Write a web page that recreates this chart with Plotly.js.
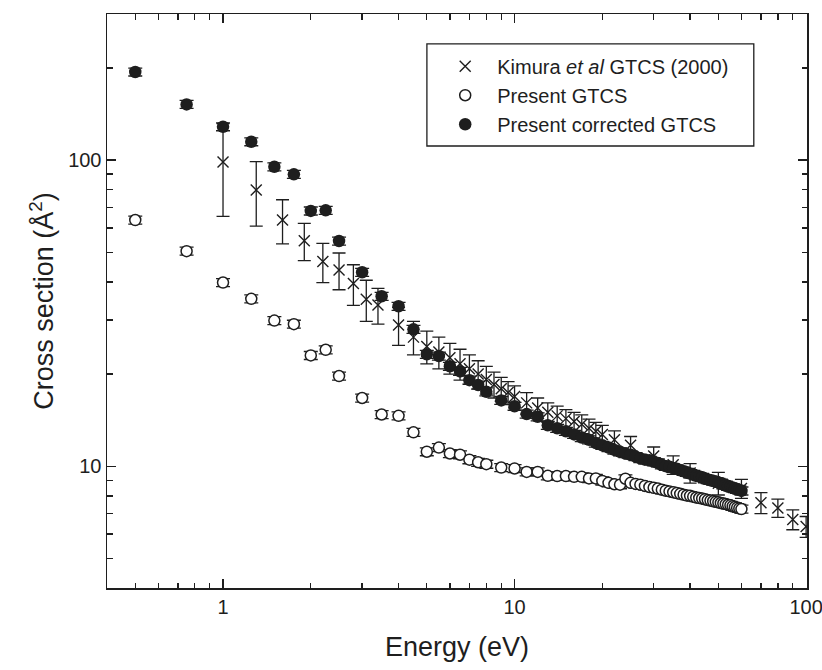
<!DOCTYPE html>
<html>
<head>
<meta charset="utf-8">
<script src="https://cdn.plot.ly/plotly-3.0.1.min.js"></script>
<style>html,body{margin:0;padding:0;background:#fff;}#chart{width:822px;height:670px;}</style>
</head>
<body>
<div id="chart"></div>
<script>
// Kimura et al GTCS (2000)
const kimuraE = [1,1.3,1.6,1.9,2.2,2.5,2.8,3.1,3.4,4,4.5,5,5.5,6,6.5,7,7.5,8,8.5,9,9.5,10,11,12,13,14,15,16,17,18,19,20,22,25,30,35,40,50,60,70,80,90,100];
const kimuraCS = [98.5,79.8,63.7,54.5,46.6,43.7,39.5,35.1,33.6,28.9,26.4,24.6,23.6,22.6,21.6,20.8,20.0,19.2,18.5,17.9,17.4,16.9,16.1,15.5,15.0,14.6,14.3,14.0,13.7,13.3,13.0,12.7,12.2,11.7,10.8,10.1,9.5,8.8,8.45,7.6,7.3,6.7,6.35];
const kimuraErr = [33,19,10.5,7.6,6.8,6,6,5.4,4.5,4.1,3.3,3.0,2.8,2.6,2.5,2.3,2.1,2.0,1.8,1.6,1.5,1.4,1.3,1.2,1.1,1.1,1.0,1.0,1.0,0.95,0.9,0.9,0.85,0.8,0.75,0.7,0.7,0.75,0.6,0.6,0.5,0.5,0.5];

// Present GTCS and Present corrected GTCS (same energy grid)
const presentE = [0.5,0.75,1,1.25,1.5,1.75,2,2.25,2.5,3,3.5,4,4.5,5,5.5,6,6.5,7,7.5,8,9,10,11,12,13,14,15,16,17,18,19,20,21,22,23,24,25,26,27,28,29,30,31,32,33,34,35,36,37,38,39,40,41,42,43,44,45,46,47,48,49,50,51,52,53,54,55,56,57,58,59,60];
const presentCS = [63.7,50.4,39.8,35.2,29.9,29.1,23.0,24.0,19.7,16.7,14.75,14.6,12.9,11.15,11.5,11.0,10.9,10.5,10.3,10.15,9.9,9.83,9.58,9.58,9.3,9.28,9.28,9.23,9.23,9.12,9.12,8.95,8.82,8.73,8.7,9.1,8.82,8.75,8.7,8.62,8.55,8.5,8.45,8.38,8.32,8.27,8.22,8.17,8.12,8.07,8.02,8.0,7.95,7.9,7.87,7.84,7.8,7.75,7.72,7.68,7.65,7.62,7.58,7.55,7.52,7.48,7.45,7.4,7.36,7.32,7.28,7.24];
const correctedCS = [194,152,128.5,114.8,95.1,89.8,68.2,68.5,54.4,43.0,35.9,33.3,28.0,23.2,22.9,21.2,20.4,19.1,18.4,17.5,16.4,15.7,14.8,14.5,13.6,13.3,13.0,12.7,12.4,12.2,11.9,11.7,11.5,11.3,11.15,11.0,10.9,10.75,10.6,10.5,10.45,10.35,10.25,10.1,10.0,9.95,9.85,9.8,9.7,9.62,9.55,9.45,9.4,9.3,9.25,9.2,9.1,9.05,9.0,8.95,8.9,8.85,8.8,8.7,8.68,8.6,8.55,8.5,8.45,8.4,8.37,8.3];

// Axis ticks
const xMajor = [1,10,100];
const xMajorText = ['1','10','100'];
const xMinor = [0.5,0.6,0.7,0.8,0.9,2,3,4,5,6,7,8,9,20,30,40,50,60,70,80,90];
const yMajor = [10,100];
const yMajorText = ['10','100'];
const yMinor = [5,6,7,8,9,20,30,40,50,60,70,80,90,200];

const INK = '#1e1e1e';
const FONT = 'Liberation Sans, Arial, Helvetica, sans-serif';

const traces = [
  {
    x: kimuraE, y: kimuraCS, type: 'scatter', mode: 'markers',
    name: 'Kimura <i>et al</i> GTCS (2000)',
    marker: {symbol: 'x-thin-open', size: 11, color: INK, line: {color: INK, width: 1.4}},
    error_y: {type: 'data', array: kimuraErr, visible: true, color: INK, thickness: 1.3, width: 6.5}
  },
  {
    x: presentE, y: presentCS, type: 'scatter', mode: 'markers',
    name: 'Present GTCS',
    marker: {symbol: 'circle', size: 11, color: '#ffffff', line: {color: INK, width: 1.5}},
    error_y: {type: 'percent', value: 3, visible: true, color: INK, thickness: 1.3, width: 7}
  },
  {
    x: presentE, y: correctedCS, type: 'scatter', mode: 'markers',
    name: 'Present corrected GTCS',
    marker: {symbol: 'circle', size: 12.5, color: INK, line: {color: INK, width: 0}},
    error_y: {type: 'percent', value: 3, visible: true, color: INK, thickness: 1.3, width: 7}
  }
];

const axisCommon = {
  type: 'log', showgrid: false, zeroline: false,
  showline: true, linecolor: INK, linewidth: 1.5, mirror: 'ticks',
  ticks: 'inside', ticklen: 9, tickwidth: 1.3, tickcolor: INK,
  tickmode: 'array', ticklabeloverflow: 'allow',
  tickfont: {family: FONT, size: 20, color: INK}
};

const layout = {
  width: 822, height: 670,
  margin: {l: 107, r: 15, t: 14, b: 82},
  paper_bgcolor: '#ffffff', plot_bgcolor: '#ffffff',
  font: {family: FONT, color: INK},
  showlegend: true,
  legend: {
    x: 0.466, y: 0.943, xanchor: 'left', yanchor: 'top',
    bgcolor: 'rgba(0,0,0,0)', borderwidth: 0,
    font: {family: FONT, size: 20, color: INK},
    itemwidth: 54, tracegroupgap: 0
  },
  shapes: [{
    type: 'rect', xref: 'paper', yref: 'paper', layer: 'above',
    x0: 0.457, x1: 0.924, y0: 0.770, y1: 0.948,
    line: {color: INK, width: 1.3}, fillcolor: 'rgba(255,255,255,1)'
  }],
  xaxis: Object.assign({}, axisCommon, {
    range: [Math.log10(0.4), 2.003],
    tickvals: xMajor, ticktext: xMajorText,
    minor: {tickmode: 'array', tickvals: xMinor, ticks: 'inside', ticklen: 5.5, tickwidth: 1.3, tickcolor: INK, showgrid: false},
    title: {text: 'Energy (eV)', font: {family: FONT, size: 27, color: INK}, standoff: 20}
  }),
  yaxis: Object.assign({}, axisCommon, {
    range: [Math.log10(4), Math.log10(300)],
    tickvals: yMajor, ticktext: yMajorText,
    minor: {tickmode: 'array', tickvals: yMinor, ticks: 'inside', ticklen: 5.5, tickwidth: 1.3, tickcolor: INK, showgrid: false},
    title: {text: 'Cross section (Å<sup>2</sup>)', font: {family: FONT, size: 27, color: INK}, standoff: 6}
  })
};

Plotly.newPlot('chart', traces, layout, {staticPlot: true, displayModeBar: false});
</script>
</body>
</html>
